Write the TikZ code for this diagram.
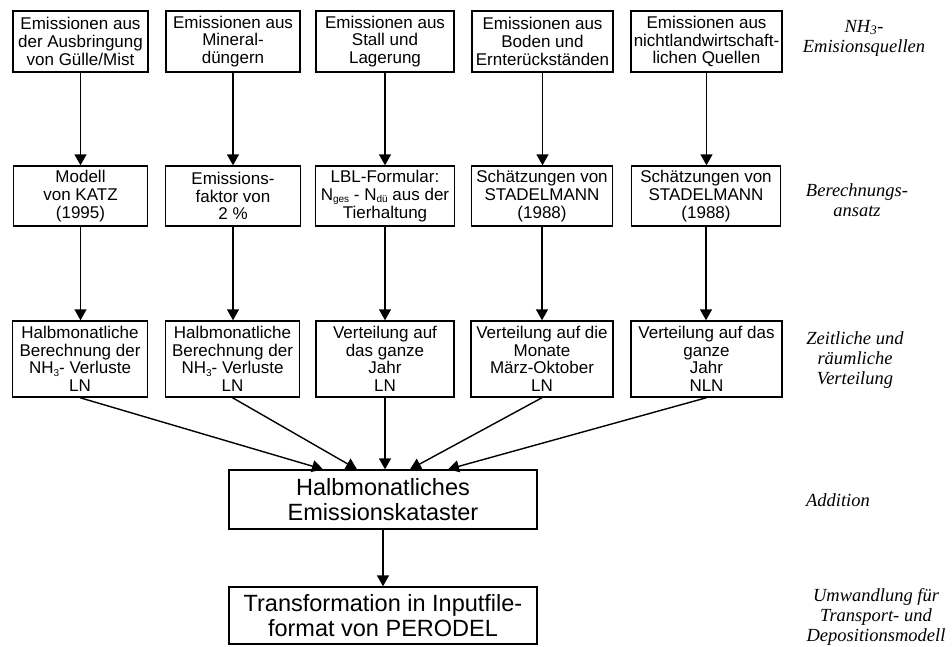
\documentclass[tikz,border=0pt]{standalone}
\usepackage{fontspec}
\setmainfont{Liberation Serif}
\newfontfamily\arialfont{Liberation Sans}
\usetikzlibrary{arrows.meta}
\tikzset{
  flowbox/.style={draw, line width=1.4pt, inner sep=0pt, align=center,
    font=\arialfont\fontsize{17}{17.6}\selectfont},
  bigbox/.style={draw, line width=1.4pt, inner sep=0pt, align=center,
    font=\arialfont\fontsize{23.5}{25}\selectfont},
  sidelabel/.style={align=center, inner sep=0pt,
    font=\itshape\fontsize{18.5}{20}\selectfont},
  arr/.style={line width=1.4pt, -{Triangle[length=11pt,width=12pt]}}
}
\newcommand{\sbs}[1]{\raisebox{-0.25ex}{\fontsize{10}{10}\selectfont #1}}
\begin{document}
\begin{tikzpicture}[x=1pt,y=-1pt]
\useasboundingbox (0,0) rectangle (952,646);
% top row
\node[flowbox, minimum width=135pt, minimum height=61pt] (t1) at (80.5,41.5) {Emissionen aus\\der Ausbringung\\von Gülle/Mist};
\node[flowbox, minimum width=134pt, minimum height=61pt] (t2) at (233,41.5) {Emissionen aus\\Mineral-\\düngern};
\node[flowbox, minimum width=138pt, minimum height=61pt] (t3) at (385,41.5) {Emissionen aus\\Stall und\\Lagerung};
\node[flowbox, minimum width=141pt, minimum height=61pt] (t4) at (542.5,41.5) {Emissionen aus\\Boden und\\Ernterückständen};
\node[flowbox, minimum width=151pt, minimum height=61pt] (t5) at (706.5,41.5) {Emissionen aus\\nichtlandwirtschaft-\\lichen Quellen};
% middle row
\node[flowbox, minimum width=134pt, minimum height=60pt] (m1) at (80.5,196) {Modell\\von KATZ\\(1995)};
\node[flowbox, minimum width=135pt, minimum height=60pt] (m2) at (233,196) {Emissions-\\faktor von\\2 \%};
\node[flowbox, minimum width=139pt, minimum height=60pt] (m3) at (385,196) {LBL-Formular:\\N\sbs{ges} - N\sbs{dü} aus der\\Tierhaltung};
\node[flowbox, minimum width=141pt, minimum height=60pt] (m4) at (542,196) {Schätzungen von\\STADELMANN\\(1988)};
\node[flowbox, minimum width=149pt, minimum height=60pt] (m5) at (706,196) {Schätzungen von\\STADELMANN\\(1988)};
% third row
\node[flowbox, minimum width=135pt, minimum height=76pt] (b1) at (80,359) {Halbmonatliche\\Berechnung der\\NH\sbs{3}- Verluste\\LN};
\node[flowbox, minimum width=134pt, minimum height=76pt] (b2) at (232.5,359) {Halbmonatliche\\Berechnung der\\NH\sbs{3}- Verluste\\LN};
\node[flowbox, minimum width=138pt, minimum height=76pt] (b3) at (385,359) {Verteilung auf\\das ganze\\Jahr\\LN};
\node[flowbox, minimum width=142pt, minimum height=76pt] (b4) at (542,359) {Verteilung auf die\\Monate\\März-Oktober\\LN};
\node[flowbox, minimum width=151pt, minimum height=76pt] (b5) at (706.5,359) {Verteilung auf das\\ganze\\Jahr\\NLN};
% big boxes
\node[bigbox, minimum width=308pt, minimum height=59pt] (add) at (383,499.5) {Halbmonatliches\\Emissionskataster};
\node[bigbox, minimum width=308pt, minimum height=57pt] (trans) at (383,615.5) {Transformation in Inputfile-\\format von PERODEL};
% side labels
\node[sidelabel] (l1) at (864,38) {NH\textsubscript{3}-\\Emisionsquellen};
\node[sidelabel] (l2) at (857,200) {Berechnungs-\\ansatz};
\node[sidelabel] (l3) at (855,360) {Zeitliche und\\räumliche\\Verteilung};
\node[sidelabel] (l4) at (838,500) {Addition};
\node[sidelabel] (l5) at (876,617) {Umwandlung für\\Transport- und\\Depositionsmodell};
% connectors
\foreach \i in {1,...,5} {
  \draw[arr] (t\i.south) -- (t\i.south |- m\i.north);
  \draw[arr] (m\i.south) -- (m\i.south |- b\i.north);
}
\draw[arr] (b1.south) -- ([xshift=-60pt]add.north);
\draw[arr] (b2.south) -- ([xshift=-26pt]add.north);
\draw[arr] (b3.south) -- (b3.south |- add.north);
\draw[arr] (b4.south) -- ([xshift=27pt]add.north);
\draw[arr] (b5.south) -- ([xshift=65pt]add.north);
\draw[arr] (add.south) -- (trans.north);
\end{tikzpicture}
\end{document}
